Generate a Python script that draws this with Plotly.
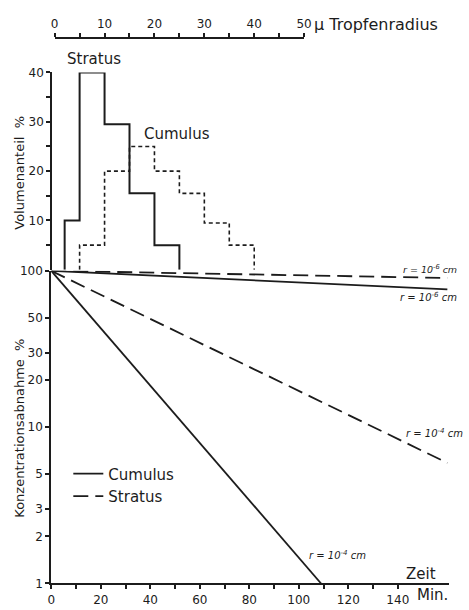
import plotly.graph_objects as go

W, H = 469, 610
INK = "#1c1c1c"
FONT = "DejaVu Sans"

# Droplet-size spectra: volume share (%) per radius class (µm)
stratus_edges = [2, 5, 10, 15, 20, 25]
stratus_share = [10, 40, 29.5, 15.5, 5]
cumulus_edges = [5, 10, 15, 20, 25, 30, 35, 40]
cumulus_share = [5, 20, 25, 20, 15.5, 9.5, 5]

# Decrease of aerosol concentration (% remaining) over time (min)
time_min = [0, 160]
cumulus_r6 = [100, 76]
stratus_r6 = [100, 90]
stratus_r4 = [100, 5.9]
cumulus_r4_time = [0, 109]
cumulus_r4 = [100, 1]

# Axis ticks
radius_ticks = list(range(0, 51, 5))
radius_labels = [str(v) if v % 10 == 0 else "" for v in radius_ticks]
share_ticks = list(range(5, 41, 5))
share_labels = [str(v) if v % 10 == 0 else "" for v in share_ticks]
conc_ticks = [1, 2, 3, 5, 10, 20, 30, 50, 100]
conc_labels = [str(v) for v in conc_ticks]
time_ticks = list(range(0, 141, 10))
time_labels = [str(v) if v % 20 == 0 else "" for v in time_ticks]


def px(x):
    return x / W


def py(y):
    return 1 - y / H


def step_outline(edges, values):
    xs, ys = [edges[0]], [0]
    for i, v in enumerate(values):
        xs += [edges[i], edges[i + 1]]
        ys += [v, v]
    xs.append(edges[-1])
    ys.append(0)
    return xs, ys


fig = go.Figure()

sx, sy = step_outline(stratus_edges, stratus_share)
cx, cy = step_outline(cumulus_edges, cumulus_share)
fig.add_trace(go.Scatter(x=sx, y=sy, xaxis="x2", yaxis="y", mode="lines",
                         line=dict(color=INK, width=2), showlegend=False))
fig.add_trace(go.Scatter(x=cx, y=cy, xaxis="x2", yaxis="y", mode="lines",
                         line=dict(color=INK, width=1.6, dash="4px,3px"),
                         showlegend=False))

LONG_DASH = "15px,7px"
fig.add_trace(go.Scatter(x=cumulus_r4_time, y=cumulus_r4, xaxis="x", yaxis="y2",
                         mode="lines", name="Cumulus",
                         line=dict(color=INK, width=1.8)))
fig.add_trace(go.Scatter(x=time_min, y=stratus_r4, xaxis="x", yaxis="y2",
                         mode="lines", name="Stratus",
                         line=dict(color=INK, width=1.8, dash=LONG_DASH)))
fig.add_trace(go.Scatter(x=time_min, y=cumulus_r6, xaxis="x", yaxis="y2",
                         mode="lines", showlegend=False,
                         line=dict(color=INK, width=1.8)))
fig.add_trace(go.Scatter(x=time_min, y=stratus_r6, xaxis="x", yaxis="y2",
                         mode="lines", showlegend=False,
                         line=dict(color=INK, width=1.8, dash=LONG_DASH)))

axis_common = dict(showline=True, linecolor=INK, linewidth=2, showgrid=False,
                   zeroline=False, ticks="outside", ticklen=4, tickwidth=1.5,
                   tickcolor=INK, tickfont=dict(family=FONT, size=12, color=INK))

annotations = [
    dict(x=px(316), y=py(18), text="µ Tropfenradius", font=dict(size=16)),
    dict(x=px(63), y=py(53), text="Stratus", font=dict(size=15)),
    dict(x=px(142), y=py(130), text="Cumulus", font=dict(size=15)),
    dict(x=px(411), y=py(580), text="Zeit", font=dict(size=15)),
    dict(x=px(422), y=py(602), text="Min.", font=dict(size=15)),
    dict(x=px(404), y=py(297), text="<i>r = 10<sup>-6</sup> cm</i>", font=dict(size=10)),
    dict(x=px(411), y=py(436), text="<i>r = 10<sup>-4</sup> cm</i>", font=dict(size=10)),
    dict(x=px(311), y=py(561), text="<i>r = 10<sup>-4</sup> cm</i>", font=dict(size=10)),
]
for a in annotations:
    a.update(xref="paper", yref="paper", xanchor="left", yanchor="middle",
             showarrow=False)
    a["font"].update(family=FONT, color=INK)

# label above the stratus r = 10^-6 cm line, flush with the right edge
annotations.append(dict(x=px(467), y=py(268), xref="paper", yref="paper",
                        xanchor="right", yanchor="middle", showarrow=False,
                        text="<i>r = 10<sup>-6</sup> cm</i>",
                        font=dict(family=FONT, size=9.5, color=INK)))

annotations += [
    dict(x=px(15), y=py(170), text="Volumenanteil  %", textangle=-90),
    dict(x=px(15), y=py(431), text="Konzentrationsabnahme  %", textangle=-90),
]
for a in annotations[-2:]:
    a.update(xref="paper", yref="paper", xanchor="center", yanchor="middle",
             showarrow=False, font=dict(family=FONT, size=13, color=INK))

fig.update_layout(
    width=W, height=H, autosize=False,
    margin=dict(l=0, r=0, t=0, b=0),
    paper_bgcolor="white", plot_bgcolor="white",
    font=dict(family=FONT, color=INK),
    xaxis=dict(domain=[px(48.5), px(457)], range=[0, 160.8], anchor="y2",
               tickvals=time_ticks, ticktext=time_labels, **axis_common),
    yaxis2=dict(domain=[py(590), py(270)], type="log", range=[0, 2], anchor="x",
                tickvals=conc_ticks, ticktext=conc_labels, **axis_common),
    yaxis=dict(domain=[py(269), py(67)], range=[0, 40], anchor="free",
               position=px(48.5), tickvals=share_ticks, ticktext=share_labels,
               **axis_common),
    xaxis2=dict(domain=[px(52), px(308)], range=[0, 50], anchor="free",
                position=py(32), side="top", tickvals=radius_ticks,
                ticktext=radius_labels, **axis_common),
    legend=dict(x=px(66), y=py(461), xanchor="left", yanchor="top",
                bgcolor="rgba(0,0,0,0)", font=dict(family=FONT, size=15, color=INK),
                tracegroupgap=0),
    annotations=annotations,
)

fig.write_html("out.html")
